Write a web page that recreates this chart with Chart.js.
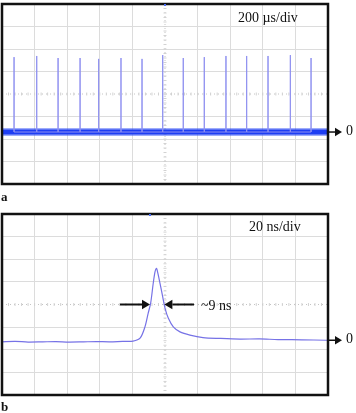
<!DOCTYPE html>
<html>
<head>
<meta charset="utf-8">
<script src="https://cdn.jsdelivr.net/npm/chart.js@4"></script>
<style>
  body { margin: 0; background: #fff; width: 356px; height: 413px; position: relative; overflow: hidden;
         font-family: 'Liberation Serif', 'DejaVu Serif', serif; color: #111; }
  canvas { position: absolute; left: 0; }
  .lbl { position: absolute; font-size: 14px; line-height: 14px; white-space: nowrap; }
  .panel { position: absolute; left: 1px; font-size: 13px; line-height: 13px; font-weight: bold; }
</style>
</head>
<body>
<canvas id="chartA" width="356" height="200" style="top:0"></canvas>
<canvas id="chartB" width="356" height="213" style="top:200px"></canvas>

<div class="lbl" style="left:238px;top:11px">200 µs/div</div>
<div class="lbl" style="left:346px;top:124px">0</div>
<div class="panel" style="top:190px">a</div>

<div class="lbl" style="left:249px;top:220px">20 ns/div</div>
<div class="lbl" style="left:201px;top:299px">~9 ns</div>
<div class="lbl" style="left:346px;top:332px">0</div>
<div class="panel" style="top:400px">b</div>

<script>
// amplitudes are in screen divisions (8 div tall, 0 = centre line)

// panel a: 200 us/div, 10 div
const aTimeRange = [0, 2000];
const aBaseline = -1.69;
const aSpikeTimes = [74, 213, 344, 479, 593, 730, 859, 986, 1112, 1241, 1374, 1501, 1632, 1769, 1896];
const aSpikePeaks = [1.64, 1.69, 1.60, 1.60, 1.56, 1.60, 1.56, 1.73, 1.60, 1.64, 1.69, 1.69, 1.69, 1.73, 1.60];

// panel b: 20 ns/div, 10 div
const bTimeRange = [0, 200];
const bBaseline = -1.58;
const bTimes = [0, 8, 16, 25, 33, 41, 50, 58, 66, 74, 80.4, 84.7, 87.7, 89.7, 91.2, 92.8, 93.9, 94.7,
                95.3, 96.9, 98.6, 100, 102, 105.1, 109.2, 115.3, 123.3, 133.7, 146, 158, 169.3, 184, 198.8, 200];
const bValues = [-1.65, -1.63, -1.66, -1.65, -1.64, -1.66, -1.65, -1.64, -1.65, -1.63, -1.62, -1.49, -0.99, -0.38, 0.06, 0.95, 1.45, 1.60,
                 1.49, 0.95, 0.34, -0.16, -0.60, -0.99, -1.21, -1.35, -1.46, -1.50, -1.53, -1.52, -1.55, -1.56, -1.58, -1.58];
// FWHM markers: [tail, tip] in ns, drawn on the 0 line
const bWidthArrows = [[72.4, 90.8], [117.8, 99.6]];

function arrow(ctx, x0, y0, x1, head) {
  const s = Math.sign(x1 - x0);
  ctx.beginPath();
  ctx.moveTo(x0, y0);
  ctx.lineTo(x1 - s * head, y0);
  ctx.stroke();
  ctx.beginPath();
  ctx.moveTo(x1, y0);
  ctx.lineTo(x1 - s * head, y0 - head * 0.6);
  ctx.lineTo(x1 - s * head, y0 + head * 0.6);
  ctx.closePath();
  ctx.fill();
}

const scopeScreen = {
  id: 'scopeScreen',
  beforeDatasetsDraw(chart) {
    const { ctx, chartArea: a, scales: { x, y } } = chart;
    const cx = x.getPixelForValue((x.min + x.max) / 2);
    const cy = y.getPixelForValue(0);
    ctx.save();
    ctx.strokeStyle = '#c4c4c4';
    ctx.lineWidth = 1;
    ctx.setLineDash([1, 3]);
    ctx.beginPath();
    ctx.moveTo(a.left, cy); ctx.lineTo(a.right, cy);
    ctx.moveTo(cx, a.top); ctx.lineTo(cx, a.bottom);
    ctx.stroke();
    ctx.setLineDash([]);
    // minor ticks, 5 per division
    ctx.strokeStyle = '#d2d2d2';
    ctx.beginPath();
    const dx = a.width / 50, dy = a.height / 40;
    for (let i = 1; i < 50; i++) { ctx.moveTo(a.left + i * dx, cy - 1.5); ctx.lineTo(a.left + i * dx, cy + 1.5); }
    for (let i = 1; i < 40; i++) { ctx.moveTo(cx - 1.5, a.top + i * dy); ctx.lineTo(cx + 1.5, a.top + i * dy); }
    ctx.stroke();
    ctx.restore();
  },
  afterDraw(chart) {
    const { ctx, chartArea: a, scales: { y } } = chart;
    const o = chart.options.plugins.scopeScreen;
    ctx.save();
    ctx.strokeStyle = '#111';
    ctx.lineWidth = 2.5;
    ctx.strokeRect(a.left, a.top, a.width, a.height);
    // zero-level marker at the right
    ctx.fillStyle = '#111';
    ctx.lineWidth = 1.5;
    arrow(ctx, a.right + 1, y.getPixelForValue(o.zero), a.right + 14, 7);
    // trigger marker
    ctx.fillStyle = '#4a6cf0';
    ctx.fillRect(chart.scales.x.getPixelForValue(o.trigger) - 1, a.top, 2, 2);
    ctx.restore();
  }
};

function baseOptions(range, zero, trigger) {
  const centre = (range[0] + range[1]) / 2;
  return {
    responsive: false,
    animation: false,
    events: [],
    layout: { padding: { left: 2, right: 28, top: 4, bottom: 16 } },
    plugins: { legend: { display: false }, tooltip: { enabled: false }, scopeScreen: { zero, trigger } },
    scales: {
      x: {
        type: 'linear', min: range[0], max: range[1],
        ticks: { display: false, stepSize: (range[1] - range[0]) / 10 },
        grid: { drawTicks: false, color: c => c.tick && c.tick.value === centre ? 'rgba(0,0,0,0)' : '#dcdcdc' },
        border: { display: false }
      },
      y: {
        min: -4, max: 4,
        ticks: { display: false, stepSize: 1 },
        grid: { drawTicks: false, color: c => c.tick && c.tick.value === 0 ? 'rgba(0,0,0,0)' : '#dcdcdc' },
        border: { display: false }
      }
    }
  };
}

// panel a
const spikePoints = [];
aSpikeTimes.forEach((t, i) => {
  spikePoints.push({ x: t, y: aBaseline }, { x: t, y: aSpikePeaks[i] }, { x: t, y: aBaseline });
});

new Chart(document.getElementById('chartA'), {
  type: 'line',
  data: {
    datasets: [
      { data: spikePoints, borderColor: '#9092f0', borderWidth: 1, pointRadius: 0, tension: 0 },
      { data: [{ x: aTimeRange[0], y: aBaseline }, { x: aTimeRange[1], y: aBaseline }],
        borderColor: 'rgba(40,70,245,0.45)', borderWidth: 8, pointRadius: 0 },
      { data: [{ x: aTimeRange[0], y: aBaseline }, { x: aTimeRange[1], y: aBaseline }],
        borderColor: '#1436f2', borderWidth: 5, pointRadius: 0 }
    ]
  },
  options: baseOptions(aTimeRange, aBaseline, 1000),
  plugins: [scopeScreen]
});

// panel b
const optsB = baseOptions(bTimeRange, bBaseline, 90.8);
optsB.layout.padding = { left: 2, right: 28, top: 14, bottom: 18 };

new Chart(document.getElementById('chartB'), {
  type: 'line',
  data: {
    datasets: [
      { data: bTimes.map((t, i) => ({ x: t, y: bValues[i] })), borderColor: '#7672e6', borderWidth: 1.2,
        pointRadius: 0, tension: 0.3 }
    ]
  },
  options: optsB,
  plugins: [scopeScreen, {
    id: 'fwhm',
    afterDatasetsDraw(chart) {
      const { ctx, scales: { x, y } } = chart;
      const cy = y.getPixelForValue(0);
      ctx.save();
      ctx.strokeStyle = '#111';
      ctx.fillStyle = '#111';
      ctx.lineWidth = 2;
      bWidthArrows.forEach(([tail, tip]) => arrow(ctx, x.getPixelForValue(tail), cy, x.getPixelForValue(tip), 8));
      ctx.restore();
    }
  }]
});
</script>
</body>
</html>
